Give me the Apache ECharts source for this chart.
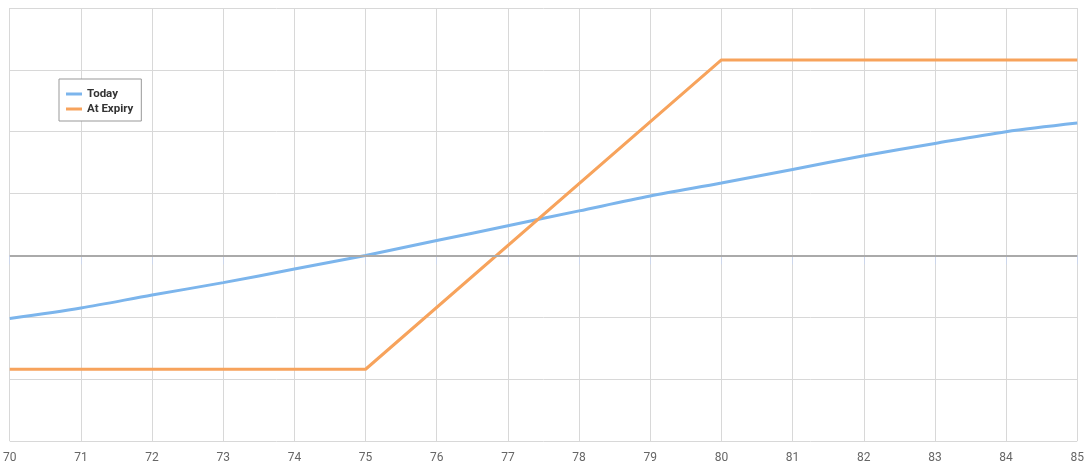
<!DOCTYPE html>
<html>
<head>
<meta charset="utf-8">
<script src="https://cdn.jsdelivr.net/npm/echarts@6/dist/echarts.min.js"></script>
<style>
html,body{margin:0;padding:0;background:#fff;}
#chart{width:1087px;height:471px;}
</style>
</head>
<body>
<div id="chart"></div>
<script>
var prices = [70, 71, 72, 73, 74, 75, 76, 77, 78, 79, 80, 81, 82, 83, 84, 85];
var todayValues = [-1.02, -0.85, -0.64, -0.44, -0.22, 0.0, 0.24, 0.48, 0.72, 0.96, 1.17, 1.39, 1.61, 1.81, 2.0, 2.14];
var expiryPrices = [70, 75, 80, 85];
var expiryValues = [-1.84, -1.84, 3.16, 3.16];
var seriesNames = ['Today', 'At Expiry'];

var chart = echarts.init(document.getElementById('chart'));
var font = 'Roboto, "DejaVu Sans Condensed", sans-serif';
chart.setOption({
  animation: false,
  backgroundColor: '#ffffff',
  grid: {left: 9, right: 8, top: 8, bottom: 30, containLabel: false},
  legend: {
    orient: 'vertical',
    left: 59, top: 79,
    padding: [8, 8, 5, 7],
    borderColor: '#999999', borderWidth: 1, borderRadius: 0,
    backgroundColor: '#ffffff',
    itemWidth: 16, itemHeight: 3, itemGap: 1,
    icon: 'rect',
    data: seriesNames,
    textStyle: {fontFamily: font, fontSize: 11.5, fontWeight: 'bold', color: '#333333', lineHeight: 14, padding: [0, 0, 0, 0]}
  },
  xAxis: {
    type: 'value', min: 70, max: 85, interval: 1,
    axisLine: {show: true, lineStyle: {color: '#ccd6eb', width: 1}},
    axisTick: {show: true, length: 9, lineStyle: {color: '#ccd6eb'}},
    axisLabel: {margin: 11, color: '#666666', fontSize: 12, fontFamily: font,
      formatter: function (v) { return String(v); }},
    splitLine: {show: true, lineStyle: {color: '#d8d8d8', width: 1}}
  },
  yAxis: {
    type: 'value', min: -3, max: 4, interval: 1,
    axisLine: {show: false}, axisTick: {show: false}, axisLabel: {show: false},
    splitLine: {show: true, lineStyle: {color: '#d8d8d8', width: 1}}
  },
  series: [
    {
      name: 'zero', type: 'line', data: [], z: 1, silent: true,
      markLine: {silent: true, symbol: 'none', label: {show: false},
        lineStyle: {color: '#aaaaaa', width: 2, type: 'solid'},
        data: [{yAxis: 0}]}
    },
    {
      name: seriesNames[0], type: 'line', smooth: 0.3, showSymbol: false, z: 3,
      color: '#7cb5ec', lineStyle: {width: 3, color: '#7cb5ec'},
      data: prices.map(function (p, i) { return [p, todayValues[i]]; })
    },
    {
      name: seriesNames[1], type: 'line', showSymbol: false, z: 3,
      color: '#f7a35c', lineStyle: {width: 3, color: '#f7a35c'},
      data: expiryPrices.map(function (p, i) { return [p, expiryValues[i]]; })
    }
  ]
});
</script>
</body>
</html>
